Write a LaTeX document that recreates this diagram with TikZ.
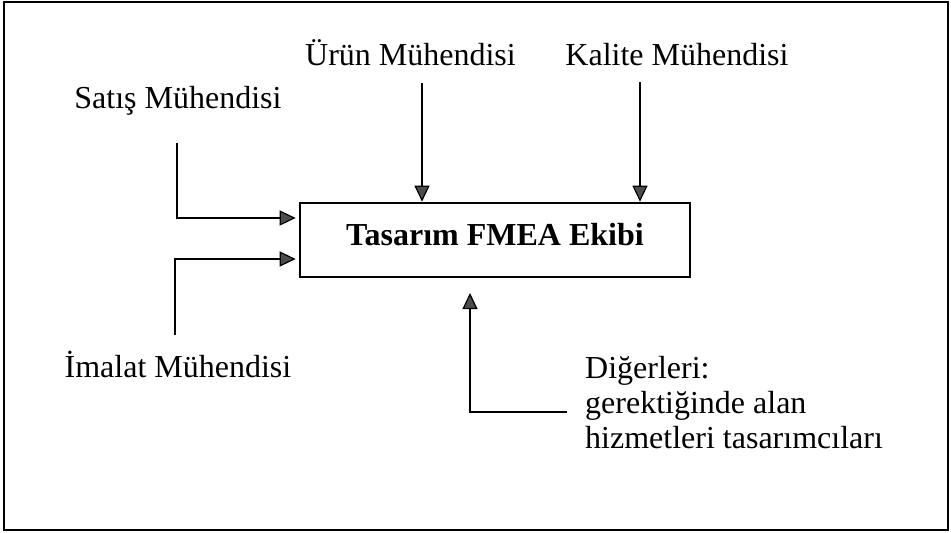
\documentclass[tikz,border=0pt]{standalone}
\usepackage{fontspec}
\setmainfont{Liberation Serif}
\usetikzlibrary{arrows.meta}

\tikzset{
  role/.style={inner sep=0pt, anchor=base, font=\fontsize{32}{35}\selectfont},
  teambox/.style={draw, line width=2.6pt, inner sep=0pt, anchor=base,
    minimum width=390pt, text height=42pt, text depth=32pt,
    font=\fontsize{32}{35}\selectfont\bfseries},
  feed/.style={line width=2.6pt,
    -{Triangle[length=16pt, width=15pt, fill=black!70, line width=1.2pt]}},
}

\begin{document}
\begin{tikzpicture}[x=1pt, y=-1pt]
  % page area and outer frame
  \useasboundingbox (0,0) rectangle (951,533);
  \draw[line width=2.8pt] (4,2) rectangle (948,530);

  % central team box
  \node[teambox] (team) at (495,245) {Tasarım FMEA Ekibi};

  % contributing roles
  \node[role] (urun)   at (410.5,65) {Ürün Mühendisi};
  \node[role] (kalite) at (677,65)   {Kalite Mühendisi};
  \node[role] (satis)  at (178,108)  {Satış Mühendisi};
  \node[role] (imalat) at (178,377)  {İmalat Mühendisi};
  \node[role, anchor=base west] (diger1) at (585,378) {Diğerleri:};
  \node[role, anchor=base west] (diger2) at (585,413) {gerektiğinde alan};
  \node[role, anchor=base west] (diger3) at (585,448) {hizmetleri tasarımcıları};

  % free ends of the feed lines
  \coordinate (urunS)   at (422,83);
  \coordinate (kaliteS) at (640,82);
  \coordinate (satisS)  at (177,143);
  \coordinate (imalatS) at (175,335);
  \coordinate (digerS)  at (567,412);
  \coordinate (digerE)  at (470,293);

  % feeds into the team
  \draw[feed] (urunS)   -- (urunS |- team.north);
  \draw[feed] (kaliteS) -- (kaliteS |- team.north);
  \draw[feed] (satisS)  |- ([xshift=-3pt]team.west |- 0,218);
  \draw[feed] (imalatS) |- ([xshift=-3pt]team.west |- 0,259);
  \draw[feed] (digerS)  -| (digerE);
\end{tikzpicture}
\end{document}
